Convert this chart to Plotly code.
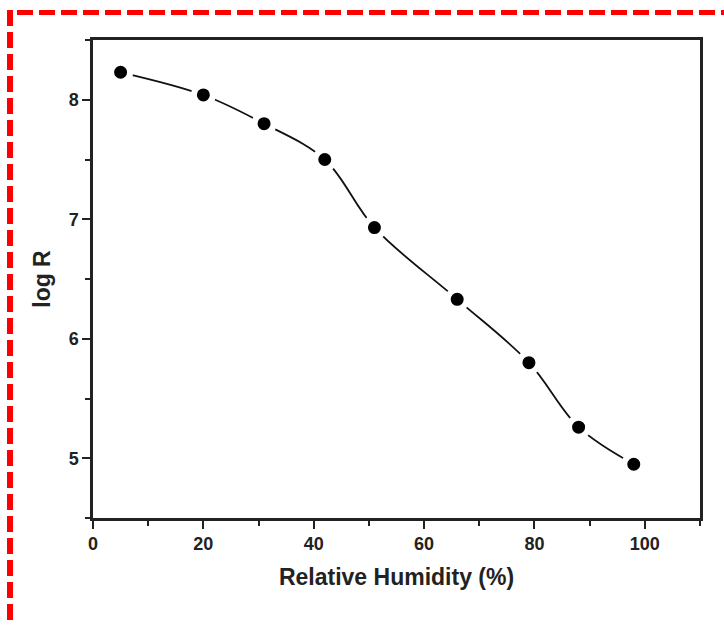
import plotly.graph_objects as go

humidity = [5, 20, 31, 42, 51, 66, 79, 88, 98]
log_r = [8.23, 8.04, 7.80, 7.50, 6.93, 6.33, 5.80, 5.26, 4.95]

x_ticks = [0, 20, 40, 60, 80, 100]
y_ticks = [5, 6, 7, 8]

W, H = 724, 625
L, R, T, B = 93, 700, 40, 518

fig = go.Figure()
fig.add_trace(go.Scatter(
    x=humidity, y=log_r, mode="lines+markers",
    line=dict(color="#111111", width=1.8, shape="spline", smoothing=1.0),
    marker=dict(size=19, color="#000000", line=dict(color="white", width=6)),
    showlegend=False,
))

axis_common = dict(
    showline=True, linecolor="#222222", linewidth=2.5, mirror=True,
    ticks="outside", ticklen=8, tickwidth=2, tickcolor="#222222",
    showgrid=False, zeroline=False,
    tickfont=dict(family="Liberation Sans, Arial", size=18, color="#222222", weight="bold"),
)

fig.update_layout(
    width=W, height=H,
    margin=dict(l=L, r=W - R, t=T, b=H - B),
    paper_bgcolor="white", plot_bgcolor="white",
    xaxis=dict(range=[0, 110], tickvals=x_ticks,
               minor=dict(dtick=10, tick0=0, ticklen=5, tickwidth=2, ticks="outside", tickcolor="#222222"),
               title=dict(text="Relative Humidity (%)", standoff=16,
                          font=dict(family="Liberation Sans, Arial", size=23, color="#222222", weight="bold")),
               **axis_common),
    yaxis=dict(range=[4.5, 8.5], tickvals=y_ticks,
               minor=dict(dtick=0.5, tick0=4.5, ticklen=5, tickwidth=2, ticks="outside", tickcolor="#222222"),
               title=dict(text="log R", standoff=12,
                          font=dict(family="Liberation Sans, Arial", size=23, color="#222222", weight="bold")),
               **axis_common),
)

def px_x(p):
    return (p - L) / (R - L)

def px_y(p):
    return (B - p) / (B - T)

# red dashed frame (top and left)
fig.add_shape(type="line", xref="paper", yref="paper",
              x0=px_x(17), x1=px_x(724), y0=px_y(12.5), y1=px_y(12.5),
              line=dict(color="#ff0000", width=5, dash="16px,6px"), layer="above")
fig.add_shape(type="line", xref="paper", yref="paper",
              x0=px_x(10), x1=px_x(10), y0=px_y(10), y1=px_y(622),
              line=dict(color="#ff0000", width=6, dash="16px,6px"), layer="above")

fig.write_html("out.html")
